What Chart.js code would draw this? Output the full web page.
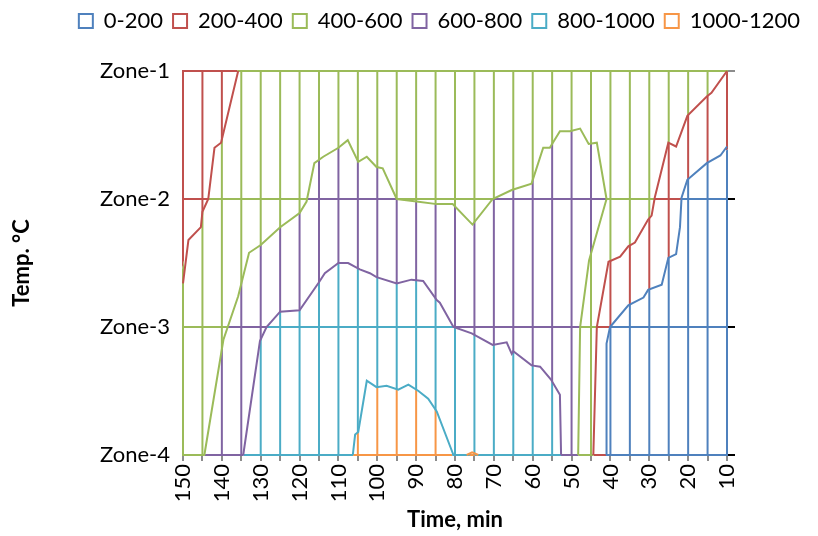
<!DOCTYPE html>
<html>
<head>
<meta charset="utf-8">
<script src="https://cdn.jsdelivr.net/npm/chart.js@4.4.0/dist/chart.umd.min.js"></script>
<style>
html, body { margin: 0; padding: 0; background: #fff; }
</style>
</head>
<body>
<canvas id="myChart" width="818" height="536"></canvas>
<script>
// temperature bands (legend) and their colours
var bands = ['0-200', '200-400', '400-600', '600-800', '800-1000', '1000-1200'];
var bandColors = ['#4f81bd', '#c0504d', '#9bbb59', '#8064a2', '#4bacc6', '#f79646'];
var zoneLabels = ['Zone-1', 'Zone-2', 'Zone-3', 'Zone-4'];

// contour lines: time in min, zone position (1 = Zone-1 ... 4 = Zone-4)
var c400LeftTime = [150, 148.6, 145.4, 145.0, 143.5, 141.9, 140.2, 135.8];
var c400LeftZone = [2.66, 2.32, 2.22, 2.10, 2.00, 1.60, 1.56, 1.00];

var c600Time = [144.5, 139.6, 135.8, 133.0, 130.0, 125.0, 120.0, 118.2, 116.2, 113.9, 110.0, 107.6, 104.9, 102.7,
    100.2, 98.6, 95.0, 89.9, 84.7, 80.6, 75.5, 70.3, 65.4, 60.3, 57.3, 55.6, 53.0, 50.4, 47.8, 45.6, 43.5, 41.0,
    45.5, 47.8, 48.3];
var c600Zone = [4.00, 3.10, 2.76, 2.42, 2.36, 2.22, 2.11, 2.02, 1.72, 1.67, 1.60, 1.54, 1.71, 1.67,
    1.75, 1.76, 2.00, 2.02, 2.04, 2.04, 2.20, 2.00, 1.93, 1.88, 1.60, 1.60, 1.47, 1.47, 1.45, 1.57, 1.56, 2.00,
    2.48, 3.00, 4.00];

var c800Time = [134.5, 130.2, 128.5, 125.0, 120.0, 115.0, 113.5, 110.0, 107.5, 104.5, 101.9, 100.2, 95.0, 91.2,
    88.2, 84.7, 83.9, 80.4, 75.7, 70.3, 66.7, 65.4, 65.0, 60.3, 58.1, 55.3, 53.0, 52.7];
var c800Zone = [4.00, 3.11, 3.00, 2.88, 2.87, 2.65, 2.58, 2.50, 2.50, 2.55, 2.58, 2.61, 2.66, 2.63,
    2.64, 2.79, 2.81, 3.00, 3.05, 3.14, 3.12, 3.21, 3.19, 3.30, 3.31, 3.41, 3.53, 4.00];

var c1000Time = [106.3, 105.7, 104.9, 102.7, 100.2, 97.6, 94.6, 92.0, 89.4, 86.9, 84.7, 80.4];
var c1000Zone = [4.00, 3.84, 3.82, 3.42, 3.47, 3.46, 3.49, 3.45, 3.50, 3.56, 3.66, 4.00];

var c1000SmallTime = [77.0, 75.6, 74.0];
var c1000SmallZone = [4.00, 3.98, 4.00];

var c400RightTime = [44.4, 43.5, 40.5, 37.5, 35.4, 33.7, 30.3, 29.4, 28.6, 25.1, 23.1, 20.2, 15.2, 14.0, 10];
var c400RightZone = [4.00, 3.00, 2.49, 2.45, 2.37, 2.34, 2.16, 2.13, 1.99, 1.56, 1.59, 1.35, 1.20, 1.17, 1.00];

var c200Time = [41.1, 41.0, 40.1, 35.4, 31.5, 30.3, 26.8, 25.1, 23.1, 22.1, 21.7, 20.2, 15.2, 11.7, 10];
var c200Zone = [4.00, 3.13, 3.00, 2.83, 2.77, 2.71, 2.67, 2.46, 2.43, 2.22, 1.99, 1.85, 1.72, 1.66, 1.59];

var T_MAX = 150, T_MIN = 10;

function pts(times, zones) {
    return times.map(function (t, i) { return {x: t, y: zones[i]}; });
}
function rev(a) { return a.slice().reverse(); }

var c400L = pts(c400LeftTime, c400LeftZone);
var c600 = pts(c600Time, c600Zone);
var c800 = pts(c800Time, c800Zone);
var c1000 = pts(c1000Time, c1000Zone);
var c1000s = pts(c1000SmallTime, c1000SmallZone);
var c400R = pts(c400RightTime, c400RightZone);
var c200 = pts(c200Time, c200Zone);

// areas of each band, built from the contour lines and the plot edges
var regions = [
    {band: 1, pts: [{x: T_MAX, y: 1}].concat(c400L)},
    {band: 1, pts: c400R.concat(rev(c200))},
    {band: 2, pts: c400L.concat([{x: T_MIN, y: 1}], rev(c400R), rev(c600), [{x: T_MAX, y: 4}])},
    {band: 3, pts: c600.concat(rev(c800))},
    {band: 4, pts: c800.concat(rev(c1000))},
    {band: 5, pts: c1000},
    {band: 5, pts: c1000s},
    {band: 0, pts: c200.concat([{x: T_MIN, y: 4}])}
];

// wireframe: grid lines coloured by the band they run through
var bandGrid = {
    id: 'bandGrid',
    beforeDatasetsDraw: function (chart) {
        var xs = chart.scales.x, ys = chart.scales.y, ctx = chart.ctx;
        function toPx(p) {
            var X = xs.getPixelForValue(p.x), Y = ys.getPixelForValue(p.y);
            if (p.x >= T_MAX) X -= 4;
            if (p.x <= T_MIN) X += 4;
            if (p.y <= 1) Y -= 4;
            if (p.y >= 4) Y += 4;
            return [X, Y];
        }
        regions.forEach(function (r) {
            ctx.save();
            ctx.beginPath();
            r.pts.forEach(function (p, i) {
                var q = toPx(p);
                if (i === 0) ctx.moveTo(q[0], q[1]); else ctx.lineTo(q[0], q[1]);
            });
            ctx.closePath();
            ctx.clip();
            ctx.strokeStyle = bandColors[r.band];
            ctx.lineWidth = 2;
            ctx.beginPath();
            xs.ticks.forEach(function (tk) {
                var X = xs.getPixelForValue(tk.value);
                ctx.moveTo(X, ys.top);
                ctx.lineTo(X, ys.bottom);
            });
            ys.ticks.forEach(function (tk) {
                var Y = ys.getPixelForValue(tk.value);
                ctx.moveTo(xs.left - 1, Y);
                ctx.lineTo(xs.right + 1, Y);
            });
            ctx.stroke();
            ctx.restore();
        });
    }
};

function line(data, band) {
    return {
        data: data,
        xAxisID: 'x',
        yAxisID: 'y',
        borderColor: bandColors[band],
        borderWidth: 2,
        pointRadius: 0,
        tension: 0,
        fill: false,
        clip: 4
    };
}

function initGraph() {
    Chart.defaults.font.family = 'Lato';
    Chart.defaults.color = '#000';
    var config = {
        type: 'line',
        data: {
            datasets: [
                line(c400L, 1), line(c600, 2), line(c800, 3), line(c1000, 4),
                line(c1000s, 5), line(c400R, 1), line(c200, 0)
            ]
        },
        options: {
            responsive: false,
            animation: false,
            events: [],
            layout: {padding: {left: 0, right: 8, top: 0, bottom: 0}},
            plugins: {
                tooltip: {enabled: false},
                legend: {
                    position: 'top',
                    align: 'end',
                    labels: {
                        font: {size: 22},
                        boxWidth: 14,
                        boxHeight: 14,
                        padding: 10,
                        generateLabels: function () {
                            return bands.map(function (b, i) {
                                return {
                                    text: b,
                                    fillStyle: 'rgba(0,0,0,0)',
                                    strokeStyle: bandColors[i],
                                    lineWidth: 2,
                                    hidden: false,
                                    fontColor: '#000'
                                };
                            });
                        }
                    }
                }
            },
            scales: {
                x: {
                    type: 'linear',
                    position: 'bottom',
                    min: T_MIN,
                    max: T_MAX,
                    reverse: true,
                    ticks: {
                        stepSize: 5,
                        autoSkip: false,
                        minRotation: 90,
                        maxRotation: 90,
                        padding: 3,
                        font: {size: 22},
                        callback: function (v) { return v % 10 === 0 ? String(v) : ''; }
                    },
                    grid: {drawOnChartArea: false, tickLength: 6, color: '#8c8c8c', lineWidth: 2},
                    border: {display: false},
                    title: {
                        display: true,
                        text: 'Time, min',
                        font: {size: 22, weight: 'bold'},
                        padding: {top: 0, bottom: 3}
                    },
                    afterFit: function (s) { s.height = 81; }
                },
                gap: {
                    type: 'linear',
                    position: 'top',
                    ticks: {display: false},
                    grid: {display: false, drawTicks: false},
                    border: {display: false},
                    afterFit: function (s) { s.height = 29; }
                },
                y: {
                    type: 'linear',
                    position: 'left',
                    min: 1,
                    max: 4,
                    reverse: true,
                    ticks: {
                        stepSize: 1,
                        padding: 13,
                        font: {size: 22},
                        callback: function (v) { return zoneLabels[v - 1]; }
                    },
                    grid: {display: false, drawTicks: false},
                    border: {display: false},
                    title: {
                        display: true,
                        text: 'Temp. °C',
                        font: {size: 22, weight: 'bold'},
                        padding: {top: 9, bottom: 0}
                    },
                    afterFit: function (s) { s.width = 183; }
                },
                y2: {
                    type: 'linear',
                    position: 'right',
                    min: 1,
                    max: 4,
                    reverse: true,
                    ticks: {
                        stepSize: 1,
                        callback: function () { return ''; }
                    },
                    grid: {
                        drawOnChartArea: false,
                        tickLength: 8,
                        lineWidth: 2,
                        color: function (c) { return c.tick && c.tick.value === 1 ? '#8c8c8c' : '#000'; }
                    },
                    border: {display: false},
                    afterFit: function (s) { s.width = 83; }
                }
            }
        },
        plugins: [bandGrid]
    };
    var myChart = new Chart(document.getElementById('myChart'), config);
}
initGraph();
</script>
</body>
</html>
